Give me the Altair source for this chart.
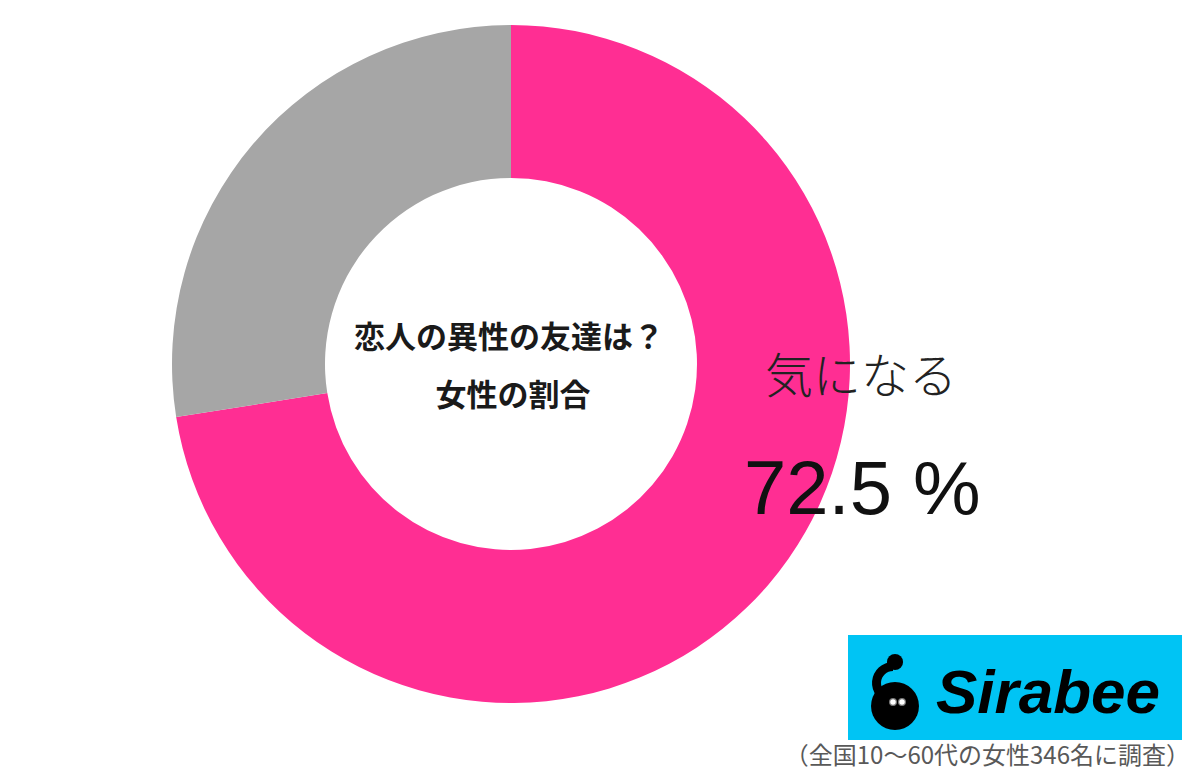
import altair as alt
import pandas as pd

# ---- data ----
categories = ["気になる", "気にならない"]
values = [72.5, 27.5]
colors = ["#FF2E93", "#A6A6A6"]
center_title = ["恋人の異性の友達は？", "女性の割合"]
label_text = "気になる"
label_value = "72.5 %"
brand = "Sirabee"
footnote = "（全国10～60代の女性346名に調査）"

W, H = 1184, 762
OX, OY = 8, 8  # page margin offset

df = pd.DataFrame({"category": categories, "value": values, "order": list(range(len(values)))})

donut = alt.Chart(df).mark_arc(innerRadius=186, outerRadius=339, stroke=None).encode(
    theta=alt.Theta("value:Q", stack=True),
    color=alt.Color("category:N", scale=alt.Scale(domain=categories, range=colors), legend=None),
    order=alt.Order("order:Q"),
    x=alt.value(511 - OX),
    y=alt.value(364 - OY),
)

def txt(text, x, y, size, weight="normal", align="center", baseline="middle",
        font="Noto Sans CJK JP", color="#1a1a1a", style="normal"):
    return alt.Chart(pd.DataFrame({"t": [text]})).mark_text(
        fontSize=size, fontWeight=weight, align=align, baseline=baseline,
        font=font, color=color, fontStyle=style,
    ).encode(text="t:N", x=alt.value(x - OX), y=alt.value(y - OY))

t1 = txt(center_title[0], 509, 339, 31, weight="bold")
t2 = txt(center_title[1], 513, 397, 31, weight="bold")
t3 = txt(label_text, 765, 379, 48, weight=300, align="left", color="#222222")
t4 = txt(label_value, 744, 514, 76, align="left", baseline="alphabetic",
         font="Liberation Sans", color="#111111")

logo_bg = alt.Chart(pd.DataFrame({"a": [0]})).mark_rect(color="#00C4F4").encode(
    x=alt.value(848 - OX), x2=alt.value(1182 - OX),
    y=alt.value(635 - OY), y2=alt.value(740 - OY),
)

brand_text = txt(brand, 936, 713, 62, weight="bold", align="left", baseline="alphabetic",
                 font="Liberation Sans", color="#000000", style="italic")

neck = alt.Chart(pd.DataFrame({"a": [0]})).mark_arc(
    innerRadius=12, outerRadius=21, color="#000000",
    theta=3.3, theta2=6.283,
).encode(x=alt.value(893 - OX), y=alt.value(683 - OY))

blob = alt.Chart(pd.DataFrame({"a": [0]})).mark_point(
    shape="circle", filled=True, color="#000000", size=2300, opacity=1
).encode(x=alt.value(895 - OX), y=alt.value(706 - OY))

head = alt.Chart(pd.DataFrame({"a": [0]})).mark_point(
    shape="circle", filled=True, color="#000000", size=260, opacity=1
).encode(x=alt.value(895 - OX), y=alt.value(662 - OY))

eyes_df = pd.DataFrame({"ex": [893 - OX, 902 - OX]})
eyes = alt.Chart(eyes_df).mark_point(
    shape="circle", filled=True, fill="#FFFFFF", stroke="#777777", strokeWidth=1.2, size=45, opacity=1
).encode(x=alt.X("ex:Q", scale=None), y=alt.value(702 - OY))

foot = txt(footnote, 1190, 757, 24, align="right", color="#595959")

chart = alt.layer(
    donut, t1, t2, t3, t4, logo_bg, neck, blob, head, eyes, brand_text, foot
).properties(
    width=W, height=H, padding=0, background="#FFFFFF",
    autosize=alt.AutoSizeParams(type="none"),
).configure_view(stroke=None, strokeWidth=0)

chart.save("out.html", embed_options={"renderer": "svg", "actions": False})
